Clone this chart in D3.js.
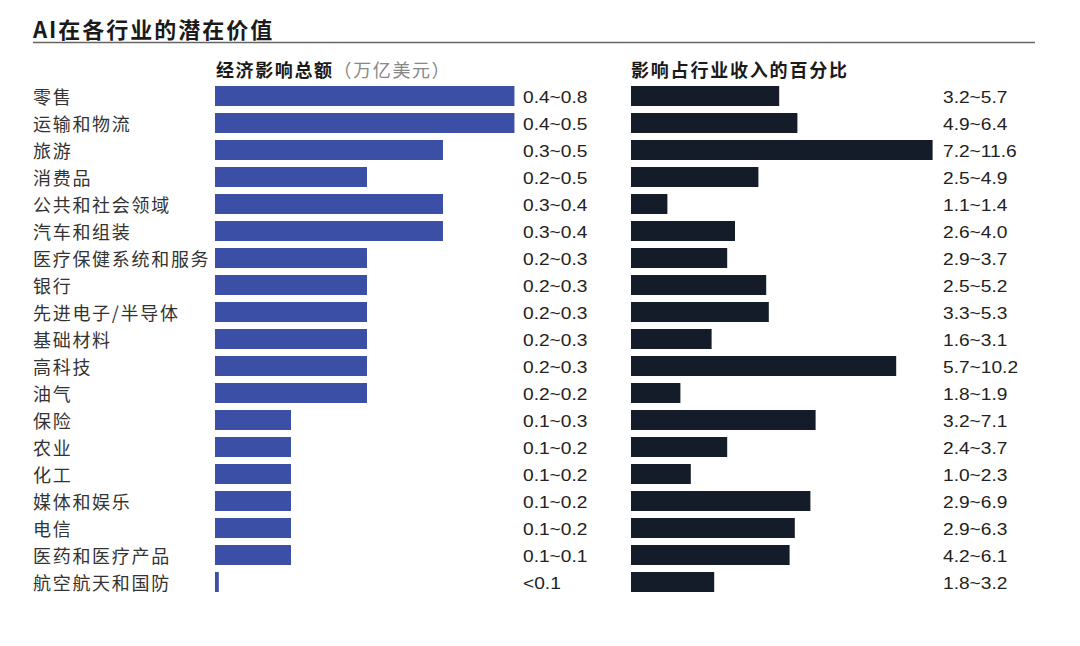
<!DOCTYPE html>
<html><head><meta charset="utf-8">
<script src="https://cdn.jsdelivr.net/npm/d3@7/dist/d3.min.js"></script>
<style>body{margin:0;background:#fff;}svg{display:block;}</style>
</head><body>
<svg id="chart" width="1080" height="646"></svg>
<script>
const title = "AI在各行业的潜在价值";
const leftHeader = "经济影响总额";
const leftUnit = "（万亿美元）";
const rightHeader = "影响占行业收入的百分比";
const categories = ["零售","运输和物流","旅游","消费品","公共和社会领域","汽车和组装","医疗保健系统和服务","银行","先进电子/半导体","基础材料","高科技","油气","保险","农业","化工","媒体和娱乐","电信","医药和医疗产品","航空航天和国防"];
const leftLabels = ["0.4~0.8","0.4~0.5","0.3~0.5","0.2~0.5","0.3~0.4","0.3~0.4","0.2~0.3","0.2~0.3","0.2~0.3","0.2~0.3","0.2~0.3","0.2~0.2","0.1~0.3","0.1~0.2","0.1~0.2","0.1~0.2","0.1~0.2","0.1~0.1","<0.1"];
const leftBar = [0.394,0.394,0.3,0.2,0.3,0.3,0.2,0.2,0.2,0.2,0.2,0.2,0.1,0.1,0.1,0.1,0.1,0.1,0.005];
const rightLabels = ["3.2~5.7","4.9~6.4","7.2~11.6","2.5~4.9","1.1~1.4","2.6~4.0","2.9~3.7","2.5~5.2","3.3~5.3","1.6~3.1","5.7~10.2","1.8~1.9","3.2~7.1","2.4~3.7","1.0~2.3","2.9~6.9","2.9~6.3","4.2~6.1","1.8~3.2"];
const rightBar = [5.7,6.4,11.6,4.9,1.4,4.0,3.7,5.2,5.3,3.1,10.2,1.9,7.1,3.7,2.3,6.9,6.3,6.1,3.2];

const svg = d3.select("#chart");
const cjk = "'Noto Sans CJK SC','Noto Sans',sans-serif";
const num = "'Liberation Sans',Arial,sans-serif";

// title
svg.append("text").attr("x",33).attr("y",27.5).attr("dominant-baseline","central")
  .style("font-family",cjk).style("font-size","22px").style("font-weight","bold")
  .style("letter-spacing","2px").attr("fill","#1a1a1a").text(title);
svg.append("line").attr("x1",33).attr("x2",1035).attr("y1",42.5).attr("y2",42.5)
  .attr("stroke","#666").attr("stroke-width",1.5);

const y = d3.scaleBand().domain(categories).range([82.5, 82.5+19*27]).paddingInner(0.26).paddingOuter(0.13);
const xL = d3.scaleLinear().domain([0,0.1]).range([215,291]);
const xR = d3.scaleLinear().domain([0,1]).range([631,657]);

// headers
const lh = svg.append("text").attr("x",216).attr("y",69).attr("dominant-baseline","central")
  .style("font-family",cjk).style("font-size","18px").style("letter-spacing","1.6px");
lh.append("tspan").style("font-weight","bold").attr("fill","#1a1a1a").text(leftHeader);
lh.append("tspan").attr("fill","#888").text(leftUnit);
svg.append("text").attr("x",631).attr("y",69).attr("dominant-baseline","central")
  .style("font-family",cjk).style("font-size","18px").style("letter-spacing","1.8px")
  .style("font-weight","bold").attr("fill","#1a1a1a").text(rightHeader);

// category labels
svg.append("g").selectAll("text").data(categories).join("text")
  .attr("x",33).attr("y",d=>y(d)+y.bandwidth()/2).attr("dominant-baseline","central")
  .style("font-family",cjk).style("font-size","18px").style("letter-spacing","1.7px")
  .attr("fill","#333").text(d=>d);

function stretch(sel){
  sel.each(function(){
    const w = this.getComputedTextLength();
    d3.select(this).attr("textLength", w*1.16).attr("lengthAdjust","spacingAndGlyphs");
  });
}

// left bars
svg.append("g").selectAll("rect").data(categories).join("rect")
  .attr("x",xL(0)).attr("y",d=>y(d)).attr("height",y.bandwidth())
  .attr("width",(d,i)=>xL(leftBar[i])-xL(0)).attr("fill","#3b4fa6");
svg.append("g").selectAll("text").data(categories).join("text")
  .attr("x",523).attr("y",d=>y(d)+y.bandwidth()/2+1).attr("dominant-baseline","central")
  .style("font-family",num).style("font-size","16.5px")
  .attr("fill","#222").text((d,i)=>leftLabels[i]).call(stretch);

// right bars
svg.append("g").selectAll("rect").data(categories).join("rect")
  .attr("x",xR(0)).attr("y",d=>y(d)).attr("height",y.bandwidth())
  .attr("width",(d,i)=>xR(rightBar[i])-xR(0)).attr("fill","#131c28");
svg.append("g").selectAll("text").data(categories).join("text")
  .attr("x",943).attr("y",d=>y(d)+y.bandwidth()/2+1).attr("dominant-baseline","central")
  .style("font-family",num).style("font-size","16.5px")
  .attr("fill","#222").text((d,i)=>rightLabels[i]).call(stretch);
</script>
</body></html>
